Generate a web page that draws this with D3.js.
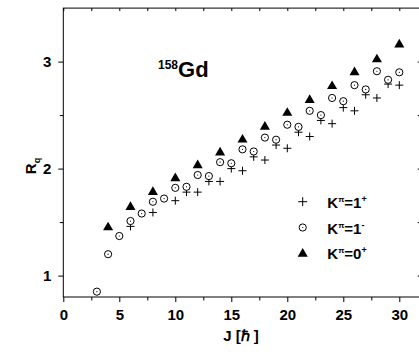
<!DOCTYPE html>
<html>
<head>
<meta charset="utf-8">
<script src="https://cdn.jsdelivr.net/npm/d3@7"></script>
<style>
  html, body { margin: 0; padding: 0; background: #fff; }
  svg { display: block; }
  text { font-family: "Liberation Sans", Arial, sans-serif; font-weight: bold; fill: #000; }
</style>
</head>
<body>
<svg id="chart" width="419" height="356"></svg>
<script>
// ---- data ----
const jMinus = [3,4,5,6,7,8,9,10,11,12,13,14,15,16,17,18,19,20,21,22,23,24,25,26,27,28,29,30];
const rMinus = [0.85,1.20,1.37,1.51,1.58,1.69,1.72,1.82,1.83,1.94,1.93,2.06,2.05,2.18,2.16,2.29,2.27,2.41,2.39,2.54,2.50,2.66,2.63,2.78,2.74,2.91,2.83,2.90];

const jPlus1 = [6,8,10,11,12,13,14,15,16,17,18,19,20,21,22,23,24,25,26,27,28,29,30];
const rPlus1 = [1.46,1.59,1.70,1.78,1.78,1.88,1.88,2.00,1.98,2.11,2.08,2.22,2.19,2.34,2.30,2.45,2.42,2.57,2.54,2.69,2.66,2.79,2.78];

const jZero = [4,6,8,10,12,14,16,18,20,22,24,26,28,30];
const rZero = [1.45,1.64,1.78,1.91,2.03,2.15,2.27,2.39,2.52,2.64,2.77,2.90,3.02,3.16];

const xMajorTicks = [0,5,10,15,20,25,30];
const xMinorTicks = [2.5,7.5,12.5,17.5,22.5,27.5];
const yMajorTicks = [1,2,3];
const yMinorTicks = [1.5,2.5];
const yRightTicks = [1,1.5,2,2.5,3];

const legendLabels = [
  {sym: "plus", sup1: "π", main: "=1", sup2: "+"},
  {sym: "circle", sup1: "π", main: "=1", sup2: "-"},
  {sym: "triangle", sup1: "π", main: "=0", sup2: "+"}
];

// ---- layout ----
const svg = d3.select("#chart");
const x = d3.scaleLinear().domain([0, 32]).range([63.3, 421.7]);
const y = d3.scaleLinear().domain([0.8, 3.5]).range([297, 8.1]);
const x0 = x.range()[0], x1 = x.range()[1], yb = y.range()[0], yt = y.range()[1];

// frame
svg.append("rect").attr("x", x0).attr("y", yt).attr("width", x1 - x0).attr("height", yb - yt)
  .attr("fill", "none").attr("stroke", "#000").attr("stroke-width", 1);

function styleAxis(g, fs) {
  g.select(".domain").remove();
  g.selectAll("line").attr("stroke", "#000").attr("stroke-width", 1);
  g.attr("font-family", null).attr("font-size", null);
  g.selectAll("text").style("font-size", fs + "px").style("font-weight", "bold");
}

// bottom axis
svg.append("g").attr("transform", `translate(0,${yb})`)
  .call(d3.axisBottom(x).tickValues(xMajorTicks).tickSize(5).tickPadding(7).tickFormat(d3.format("d")))
  .call(g => styleAxis(g, 15));
svg.append("g").attr("transform", `translate(0,${yb})`)
  .call(d3.axisBottom(x).tickValues(xMinorTicks).tickSize(3.5).tickFormat(""))
  .call(g => styleAxis(g, 15));
// top axis (inward)
svg.append("g").attr("transform", `translate(0,${yt})`)
  .call(d3.axisBottom(x).tickValues(xMajorTicks.concat(xMinorTicks)).tickSize(3).tickFormat(""))
  .call(g => styleAxis(g, 15));

// left axis
svg.append("g").attr("transform", `translate(${x0},0)`)
  .call(d3.axisLeft(y).tickValues(yMajorTicks).tickSize(5).tickPadding(7).tickFormat(d3.format("d")))
  .call(g => styleAxis(g, 15));
svg.append("g").attr("transform", `translate(${x0},0)`)
  .call(d3.axisLeft(y).tickValues(yMinorTicks).tickSize(3.5).tickFormat(""))
  .call(g => styleAxis(g, 15));
// right axis (inward)
svg.append("g").attr("transform", `translate(${x1},0)`)
  .call(d3.axisLeft(y).tickValues(yRightTicks).tickSize(4).tickFormat(""))
  .call(g => styleAxis(g, 15));

// axis titles
svg.append("text").attr("x", 241).attr("y", 341).attr("text-anchor", "middle")
  .style("font-size", "15px").text("J [ℏ ]");
const yt1 = svg.append("text").attr("transform", "translate(36,166) rotate(-90)")
  .attr("text-anchor", "middle").style("font-size", "15px");
yt1.append("tspan").text("R");
yt1.append("tspan").attr("dy", 4).style("font-size", "9px").text("q");

// nucleus label
const nl = svg.append("text").attr("x", 158).attr("y", 77.3);
nl.append("tspan").attr("dy", -8).style("font-size", "12px").text("158");
nl.append("tspan").attr("dy", 8).style("font-size", "22px").text("Gd");

// marker drawers
const triPath = d3.symbol().type(d3.symbolTriangle).size(44)();
function drawPlus(g, cx, cy, h) {
  g.append("line").attr("x1", cx - h).attr("x2", cx + h).attr("y1", cy).attr("y2", cy).attr("stroke", "#000").attr("stroke-width", 1);
  g.append("line").attr("x1", cx).attr("x2", cx).attr("y1", cy - h).attr("y2", cy + h).attr("stroke", "#000").attr("stroke-width", 1);
}
function drawCircle(g, cx, cy) {
  g.append("circle").attr("cx", cx).attr("cy", cy).attr("r", 3.6).attr("fill", "#fff").attr("stroke", "#000").attr("stroke-width", 1);
  g.append("circle").attr("cx", cx).attr("cy", cy).attr("r", 0.6).attr("fill", "#000");
}
function drawTri(g, cx, cy) {
  g.append("path").attr("d", triPath).attr("transform", `translate(${cx},${cy})`).attr("fill", "#000");
}

// data marks
const gPlus = svg.append("g");
jPlus1.forEach((j, i) => drawPlus(gPlus, x(j), y(rPlus1[i]), 4));
const gCirc = svg.append("g");
jMinus.forEach((j, i) => drawCircle(gCirc, x(j), y(rMinus[i])));
const gTri = svg.append("g");
jZero.forEach((j, i) => drawTri(gTri, x(j), y(rZero[i])));

// legend
const lg = svg.append("g");
legendLabels.forEach((d, i) => {
  const cy = 201.7 + i * 25.8;
  if (d.sym === "plus") drawPlus(lg, 302.7, cy, 4.5);
  else if (d.sym === "circle") drawCircle(lg, 302.7, cy);
  else drawTri(lg, 302.7, cy + 0.5);
  const t = lg.append("text").attr("x", 327.3).attr("y", cy + 6).style("font-size", "15px");
  t.append("tspan").text("K");
  t.append("tspan").attr("dy", -6).style("font-size", "8px").text(d.sup1);
  t.append("tspan").attr("dy", 6).text(d.main);
  t.append("tspan").attr("dy", -6).style("font-size", "9px").text(d.sup2);
});
</script>
</body>
</html>
